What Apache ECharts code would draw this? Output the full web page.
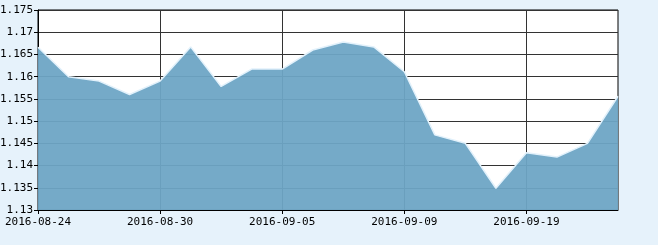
<!DOCTYPE html>
<html><head><meta charset="utf-8">
<script src="https://cdn.jsdelivr.net/npm/echarts@6/dist/echarts.min.js"></script>
<style>html,body{margin:0;padding:0;background:#e6f2fb;}#c{width:658px;height:245px;}</style>
</head><body><div id="c"></div>
<script>
var categories = ['2016-08-24','2016-08-25','2016-08-26','2016-08-29','2016-08-30','2016-08-31','2016-09-01','2016-09-02','2016-09-05','2016-09-06','2016-09-07','2016-09-08','2016-09-09','2016-09-12','2016-09-13','2016-09-14','2016-09-19','2016-09-20','2016-09-21','2016-09-22'];
var values = [1.1666,1.1600,1.1590,1.1560,1.1590,1.1667,1.1578,1.1617,1.1617,1.1660,1.1678,1.1667,1.1611,1.1469,1.1450,1.1349,1.1429,1.1419,1.1450,1.1556];
var yMin = 1.13, yMax = 1.175, yStep = 0.005;

var chart = echarts.init(document.getElementById('c'));
var font = '"DejaVu Sans Mono", monospace';
chart.setOption({
  backgroundColor: '#e6f2fb',
  animation: false,
  grid: {left: 38, right: 40, top: 10, bottom: 35, show: true, backgroundColor: '#ffffff', borderColor: '#000', borderWidth: 1,
         containLabel: false, outerBoundsMode: 'none'},
  xAxis: {
    type: 'category', data: categories, boundaryGap: false,
    axisLine: {lineStyle: {color: '#000', width: 1}},
    axisTick: {show: true, interval: 3, length: 4, lineStyle: {color: '#000'}},
    axisLabel: {interval: 3, color: '#000', fontFamily: font, fontSize: 11, margin: 7},
    splitLine: {show: true, interval: 3, lineStyle: {color: '#333', width: 1}}
  },
  yAxis: {
    type: 'value', min: yMin, max: yMax, interval: yStep,
    axisLine: {show: true, lineStyle: {color: '#000', width: 1}},
    axisTick: {show: true, length: 4, lineStyle: {color: '#000'}},
    axisLabel: {color: '#000', fontFamily: font, fontSize: 11, margin: 5,
      formatter: function(v){ return String(parseFloat(v.toFixed(3))); }},
    splitLine: {show: true, lineStyle: {color: '#333', width: 1}}
  },
  series: [{
    type: 'line', data: values, symbol: 'none',
    lineStyle: {color: '#e2f1fb', width: 1.5},
    areaStyle: {color: '#6ea5c5', opacity: 0.95}
  }]
});
</script></body></html>
